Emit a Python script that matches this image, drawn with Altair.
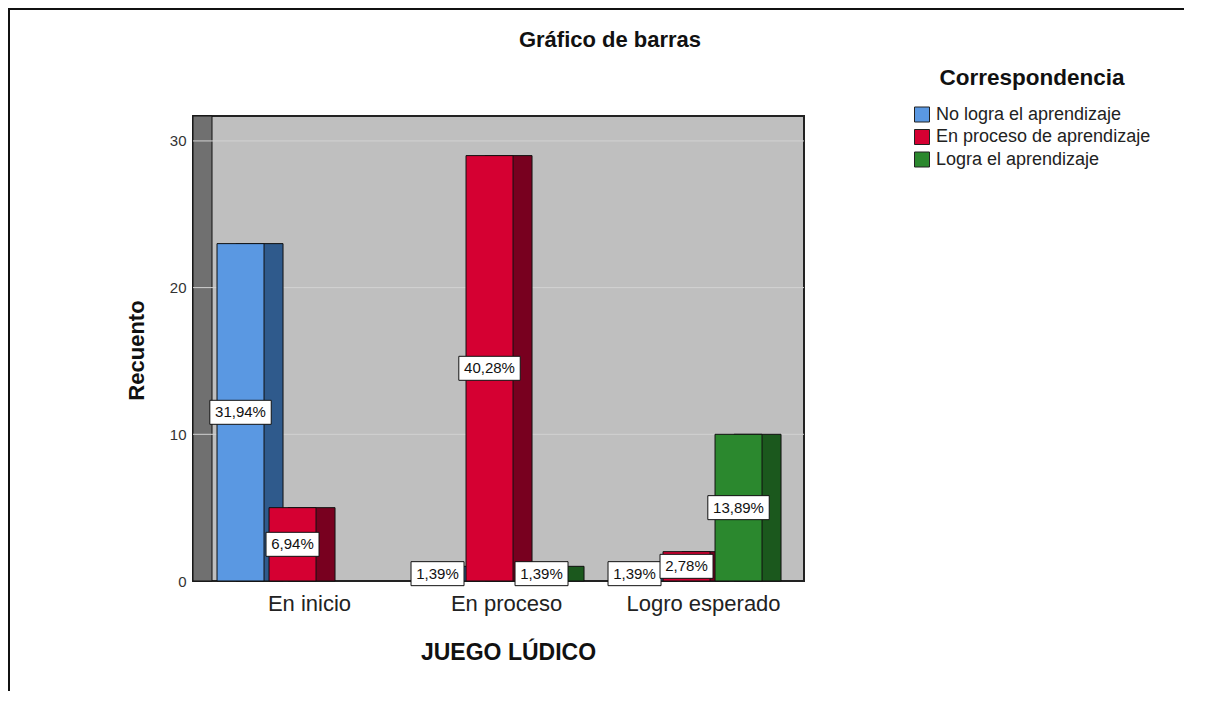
import altair as alt
import pandas as pd

# ---- data ----
categories = ["En inicio", "En proceso", "Logro esperado"]
series_names = ["No logra el aprendizaje", "En proceso de aprendizaje", "Logra el aprendizaje"]
no_logra = [23, 1, 1]
en_proceso = [5, 29, 2]
logra = [0, 1, 10]
y_ticks = [0, 10, 20, 30]
grid_values = [10, 20, 30]
chart_title = ["Gráfico de barras"]

front_colors = ["#5a98e2", "#d50032", "#2b882e"]
side_colors = ["#2f5a8c", "#78001f", "#1b581d"]

FONT = "Liberation Sans"
W, H = 611, 465

total = sum(no_logra) + sum(en_proceso) + sum(logra)
rows = []
for s, vals in zip(series_names, [no_logra, en_proceso, logra]):
    for c, v in zip(categories, vals):
        if v > 0:
            pct = f"{v / total * 100:.2f}%".replace(".", ",")
            rows.append({"cat": c, "series": s, "count": v, "mid": v / 2, "label": pct})
df = pd.DataFrame(rows)
# label box outline (pixel path, size=4 -> scale 1): width follows the label length
df["box"] = df["label"].map(
    lambda t: "M{0},-12H{1}V12H{0}Z".format(-(4.5 + 8.4 * len(t) / 2 + 1), 4.5 + 8.4 * len(t) / 2 + 1)
)
grid_df = pd.DataFrame({"count": grid_values})
one = pd.DataFrame({"k": [0]})
title_df = pd.DataFrame({"t": chart_title})

x_enc = alt.X(
    "cat:N", sort=categories,
    scale=alt.Scale(paddingInner=0.2335, paddingOuter=0.1675, align=0.364),
    axis=alt.Axis(title="JUEGO LÚDICO", labelAngle=0, ticks=False, domain=False,
                  labelFontSize=22, labelFont=FONT, labelColor="#222", labelPadding=12,
                  labelOffset=17, titleFont=FONT, titleFontSize=23, titleFontWeight="bold",
                  titleColor="#111", titleX=315, titleY=78, titleBaseline="alphabetic"),
)


def y_enc(field):
    return alt.Y(
        field, scale=alt.Scale(domain=[0, 31.7], nice=False, zero=True),
        axis=alt.Axis(title="Recuento", values=y_ticks, grid=False, ticks=False, domain=False,
                      labelFontSize=15, labelFont=FONT, labelColor="#333", labelPadding=7,
                      titleFont=FONT, titleFontSize=22, titleFontWeight="bold", titleColor="#111",
                      titleX=-57, titleY=234, titleBaseline="middle", titleAlign="center",
                      titleAngle=270),
    )


off_front = alt.XOffset("series:N", sort=series_names,
                        scale=alt.Scale(paddingInner=0.09615, paddingOuter=0))
off_side = alt.XOffset("series:N", sort=series_names,
                       scale=alt.Scale(range=[19, 170], paddingInner=0.09615, paddingOuter=0))
off_label = alt.XOffset("series:N", sort=series_names,
                        scale=alt.Scale(type="point", range=[23.5, 127.5], padding=0))

wall = alt.Chart(one).mark_rect(fill="#707070", stroke="#111", strokeWidth=1).encode(
    x=alt.value(0), x2=alt.value(19), y=alt.value(0), y2=alt.value(H)
)

grid = alt.Chart(grid_df).mark_rule(color="#d2d2d2", strokeWidth=1).encode(
    y=y_enc("count:Q"), x=alt.value(0), x2=alt.value(W)
)

side = alt.Chart(df).mark_bar(stroke="#111", strokeWidth=1).encode(
    x=x_enc, xOffset=off_side, y=y_enc("count:Q"),
    color=alt.Color("series:N", sort=series_names,
                    scale=alt.Scale(domain=series_names, range=side_colors), legend=None),
)

front = alt.Chart(df).mark_bar(stroke="#111", strokeWidth=1).encode(
    x=x_enc, xOffset=off_front, y=y_enc("count:Q"),
    color=alt.Color("series:N", sort=series_names,
                    scale=alt.Scale(domain=series_names, range=front_colors),
                    legend=alt.Legend(title="Correspondencia", orient="none", legendX=720,
                                      legendY=-49, symbolType="square", symbolSize=225,
                                      symbolStrokeColor="#222", symbolStrokeWidth=1,
                                      symbolOpacity=1, titleFont=FONT, titleFontSize=22.5,
                                      titleFontWeight="bold", titleColor="#111",
                                      titleAnchor="middle", titlePadding=16, titleLimit=0,
                                      labelFont=FONT, labelFontSize=18, labelColor="#222",
                                      labelLimit=0, rowPadding=2.5, labelOffset=5)),
)

boxes = alt.Chart(df).mark_point(size=4, filled=True, fill="white",
                                 stroke="#111", strokeWidth=1, opacity=1).encode(
    x=x_enc, xOffset=off_label, y=y_enc("mid:Q"),
    shape=alt.Shape("box:N", scale=None, legend=None),
)

labels = alt.Chart(df).mark_text(font=FONT, fontSize=15, color="#111", baseline="middle").encode(
    x=x_enc, xOffset=off_label, y=y_enc("mid:Q"), text="label:N"
)

title = alt.Chart(title_df).mark_text(font=FONT, fontSize=22, fontWeight="bold", color="#111",
                                      baseline="middle", align="center").encode(
    x=alt.value(417), y=alt.value(-76), text="t:N"
)

frame_top = alt.Chart(one).mark_rule(color="#111", strokeWidth=2).encode(
    x=alt.value(-185), x2=alt.value(1010), y=alt.value(-107)
)
frame_left = alt.Chart(one).mark_rule(color="#111", strokeWidth=2).encode(
    x=alt.value(-184), y=alt.value(-108), y2=alt.value(600)
)

chart = alt.layer(wall, grid, side, front, boxes, labels, title, frame_top, frame_left).resolve_scale(
    xOffset="independent", color="independent"
).properties(
    width=W, height=H,
    autosize=alt.AutoSizeParams(type="none"),
    padding={"left": 185, "top": 108, "right": 380, "bottom": 110},
    background="white",
).configure_view(
    fill="#bfbfbf", stroke="#222", strokeWidth=2
)

chart.save("out.html", embed_options={"renderer": "svg", "actions": False})
